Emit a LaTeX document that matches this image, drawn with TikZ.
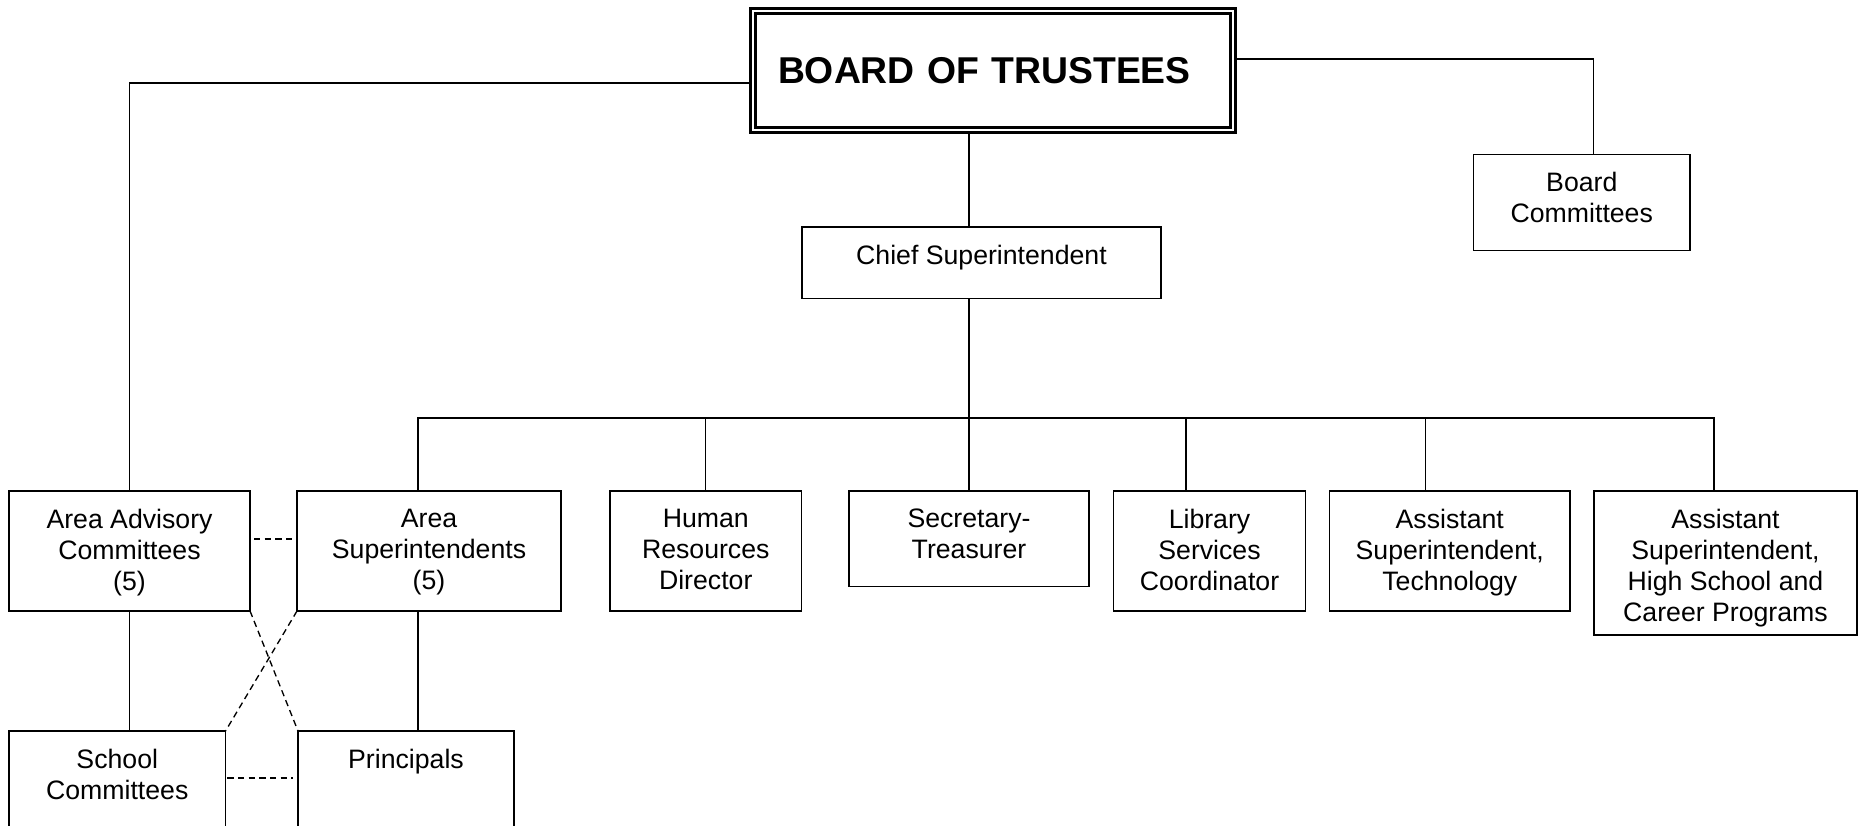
\documentclass[tikz,border=0pt]{standalone}
\usepackage{fontspec}
\setmainfont{Liberation Sans}

\tikzset{
    box/.style={draw, line width=0.65pt, anchor=north west, outer sep=0pt, inner sep=0pt},
    txt/.style={anchor=north, align=center, inner sep=0pt, font=\fontsize{10}{11.6}\selectfont},
    link/.style={line width=0.5pt},
    dashlink/.style={line width=0.5pt, dash pattern=on 2.4pt off 1.6pt}
}

\begin{document}
\begin{tikzpicture}[x=0.375pt, y=-0.375pt]
            \useasboundingbox (0,0) rectangle (1860,825);
            \node[draw, double, line width=1pt, double distance=1pt, outer sep=1.5pt, minimum width=180pt, minimum height=44.6pt, text width=161.25pt, inner xsep=9.4pt, align=left, font=\fontsize{14}{16}\selectfont\bfseries] (board) at (993,70.5) {BOARD OF TRUSTEES};
            \node[box, minimum width=134.6pt, minimum height=26.8pt] (chief) at (802,227) {};
            \node[box, minimum width=81.2pt, minimum height=36pt] (bcomm) at (1473.5,154.5) {};
            \node[box, minimum width=90.4pt, minimum height=45pt] (aac) at (9,491) {};
            \node[box, minimum width=99pt, minimum height=45pt] (asupt) at (297,491) {};
            \node[box, minimum width=71.8pt, minimum height=45pt] (hr) at (610,491) {};
            \node[box, minimum width=90pt, minimum height=35.8pt] (sec) at (849,491) {};
            \node[box, minimum width=72pt, minimum height=45pt] (lib) at (1113.5,491) {};
            \node[box, minimum width=90.2pt, minimum height=45pt] (asttech) at (1329.5,491) {};
            \node[box, minimum width=98.6pt, minimum height=54pt] (asths) at (1594,491) {};
            \node[box, minimum width=81.2pt, minimum height=41.25pt] (scomm) at (9,731) {};
            \node[box, minimum width=81pt, minimum height=41.25pt] (princ) at (298,731) {};

            \node[txt] (chief-t) at ([yshift=-6.5pt]chief.north) {Chief Superintendent};
            \node[txt] (bcomm-t) at ([yshift=-6.5pt]bcomm.north) {Board\\Committees};
            \node[txt] (aac-t) at ([yshift=-6.5pt]aac.north) {Area Advisory\\Committees\\(5)};
            \node[txt] (asupt-t) at ([yshift=-6.5pt]asupt.north) {Area\\Superintendents\\(5)};
            \node[txt] (hr-t) at ([yshift=-6.5pt]hr.north) {Human\\Resources\\Director};
            \node[txt] (sec-t) at ([yshift=-6.5pt]sec.north) {Secretary-\\Treasurer};
            \node[txt] (lib-t) at ([yshift=-6.5pt]lib.north) {Library\\Services\\Coordinator};
            \node[txt] (asttech-t) at ([yshift=-6.5pt]asttech.north) {Assistant\\Superintendent,\\Technology};
            \node[txt] (asths-t) at ([yshift=-6.5pt]asths.north) {Assistant\\Superintendent,\\High School and\\Career Programs};
            \node[txt] (scomm-t) at ([yshift=-6.5pt]scomm.north) {School\\Committees};
            \node[txt] (princ-t) at ([yshift=-6.5pt]princ.north) {Principals};

            \coordinate (bus) at (969,418);
            \draw[link] ([yshift=-4.7pt]board.west) -| (aac.north);
            \draw[link] ([yshift=4.3pt]board.east) -| ([xshift=4.3pt]bcomm.north);
            \draw[link] (board.south -| sec.north) -- (chief.north -| sec.north);
            \draw[link] (chief.south -| sec.north) -- (sec.north);
            \draw[link] ([xshift=-4.1pt]asupt.north) |- (bus);
            \draw[link] (hr.north) |- (bus);
            \draw[link] ([xshift=-8.8pt]lib.north) |- (bus);
            \draw[link] ([xshift=-9.2pt]asttech.north) |- (bus);
            \draw[link] ([xshift=-4.3pt]asths.north) |- (bus);
            \draw[link] (aac.south) -- (aac.south |- scomm.north);
            \draw[link] ([xshift=-4.1pt]asupt.south) |- (princ.north);
            \draw[dashlink] ([shift={(1.5pt,4.5pt)}]aac.east) -- ([shift={(-1.5pt,4.5pt)}]asupt.west);
            \draw[dashlink] ([shift={(0.7pt,-17.6pt)}]scomm.north east) -- ([shift={(-2pt,-17.6pt)}]princ.north west);
            \draw[dashlink] (aac.south east) -- (princ.north west);
            \draw[dashlink] (asupt.south west) -- (scomm.north east);
\end{tikzpicture}
\end{document}
